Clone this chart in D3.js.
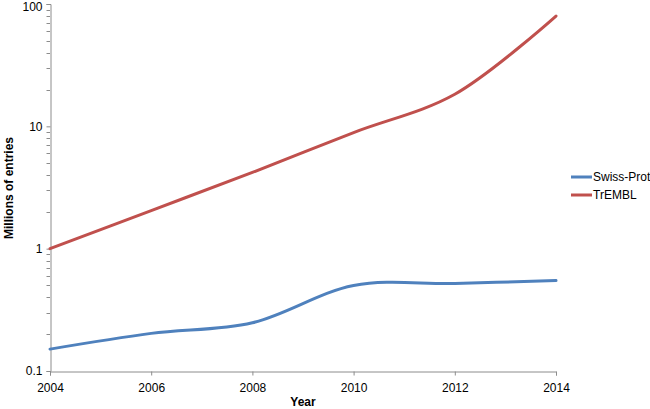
<!DOCTYPE html>
<html><head><meta charset="utf-8">
<script src="https://cdn.jsdelivr.net/npm/d3@7"></script>
<style>body{margin:0;background:#fff}svg{display:block}</style>
</head><body>
<svg id="c" width="650" height="409"></svg>
<script>
const years = [2004, 2006, 2008, 2010, 2012, 2014];
const swissProt = [0.151, 0.203, 0.248, 0.50, 0.52, 0.548];
const trembl = [1.0, 2.05, 4.2, 8.9, 18.3, 79.7];
const seriesNames = ["Swiss-Prot", "TrEMBL"];
const yTickValues = [0.1, 1, 10, 100];
const yTickLabels = ["0.1", "1", "10", "100"];
const xTickValues = [2004, 2006, 2008, 2010, 2012, 2014];

const colors = ["#4F81BD", "#C0504D"];
const svg = d3.select("#c");
const font = "'Liberation Sans', Arial, sans-serif";

const x = d3.scaleLinear().domain([2004, 2014]).range([50, 556]);
const y = d3.scaleLog().domain([0.1, 100]).range([371, 4]);

// minor ticks
const minor = [];
for (let d = 0.1; d < 100; d *= 10) for (let k = 2; k <= 9; k++) minor.push(d * k);
svg.append("g").selectAll("line").data(minor).join("line")
  .attr("x1", 46.5).attr("x2", 50).attr("y1", d => Math.round(y(d)) + 0.5).attr("y2", d => Math.round(y(d)) + 0.5)
  .attr("stroke", "#8c8c8c").attr("stroke-width", 1);

const yAxis = d3.axisLeft(y).tickValues(yTickValues).tickFormat((d, i) => yTickLabels[i]).tickSizeOuter(0).tickSize(4).tickPadding(4);
const gy = svg.append("g").attr("transform", "translate(50.5,0)").call(yAxis);
gy.selectAll("path,line").attr("stroke", "#8c8c8c");
gy.selectAll("text").attr("font-family", font).attr("font-size", 12).attr("fill", "#000");
gy.selectAll(".tick").filter(d => d === 100).select("text").attr("dy", "0.5em");

const xAxis = d3.axisBottom(x).tickValues(xTickValues).tickFormat(d3.format("d")).tickSizeOuter(0).tickSize(4).tickPadding(8);
const gx = svg.append("g").attr("transform", "translate(0,371.5)").call(xAxis);
gx.selectAll("path,line").attr("stroke", "#8c8c8c");
gx.selectAll("text").attr("font-family", font).attr("font-size", 12).attr("fill", "#000");

const line = d3.line().x((d, i) => x(years[i])).y(d => y(d)).curve(d3.curveCatmullRom.alpha(0.5));
[swissProt, trembl].forEach((s, i) => {
  svg.append("path").attr("d", line(s)).attr("fill", "none")
    .attr("stroke", colors[i]).attr("stroke-width", 3).attr("stroke-linecap", "round");
});

// legend
seriesNames.forEach((n, i) => {
  const ly = 177 + i * 18;
  svg.append("line").attr("x1", 571).attr("x2", 592).attr("y1", ly).attr("y2", ly)
    .attr("stroke", colors[i]).attr("stroke-width", 3);
  svg.append("text").attr("x", 593).attr("y", ly + 4).text(n)
    .attr("font-family", font).attr("font-size", 12).attr("fill", "#000");
});

svg.append("text").attr("x", 303).attr("y", 406).attr("text-anchor", "middle")
  .attr("font-family", font).attr("font-weight", "bold").attr("font-size", 12).text("Year");
svg.append("text").attr("transform", "translate(9,188) rotate(-90)").attr("text-anchor", "middle")
  .attr("dy", "0.35em").attr("font-family", font).attr("font-weight", "bold").attr("font-size", 12).text("Millions of entries");
</script>
</body></html>
